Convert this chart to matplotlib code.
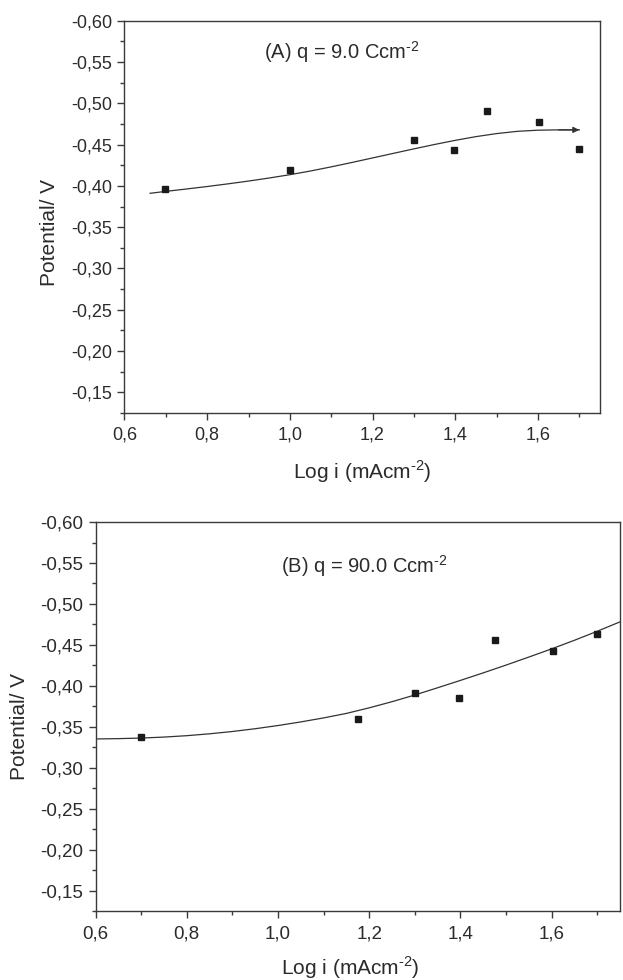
import matplotlib
matplotlib.use('Agg')
import matplotlib.pyplot as plt
from matplotlib.ticker import MultipleLocator, FuncFormatter

plt.rcParams['font.family'] = ['Liberation Sans', 'DejaVu Sans']
plt.rcParams['mathtext.fontset'] = 'custom'
plt.rcParams['mathtext.rm'] = 'Liberation Sans'

# 数据 (A) q = 9.0 Ccm-2
log_i_a = [0.699, 1.000, 1.301, 1.398, 1.477, 1.602, 1.699]
pot_a = [-0.396, -0.419, -0.4555, -0.4432, -0.4912, -0.4770, -0.4444]
fit_x_a = [0.662, 0.70, 0.75, 0.80, 0.85, 0.90, 0.95, 1.00, 1.05, 1.10, 1.15, 1.20,
           1.25, 1.30, 1.35, 1.40, 1.45, 1.50, 1.55, 1.60, 1.65, 1.70]
fit_y_a = [-0.3910, -0.3933, -0.3962, -0.3992, -0.4024, -0.4058, -0.4095, -0.4135,
           -0.4180, -0.4230, -0.4283, -0.4338, -0.4393, -0.4448, -0.4501, -0.4551,
           -0.4596, -0.4633, -0.4660, -0.4674, -0.4678, -0.4678]

# 数据 (B) q = 90.0 Ccm-2
log_i_b = [0.699, 1.176, 1.301, 1.398, 1.477, 1.602, 1.699]
pot_b = [-0.3376, -0.3600, -0.3917, -0.3855, -0.4560, -0.4422, -0.4633]
fit_x_b = [0.60, 0.65, 0.70, 0.75, 0.80, 0.85, 0.90, 0.95, 1.00, 1.05, 1.10, 1.15,
           1.20, 1.25, 1.30, 1.35, 1.40, 1.45, 1.50, 1.55, 1.60, 1.65, 1.70, 1.75]
fit_y_b = [-0.3351, -0.3355, -0.3362, -0.3374, -0.3391, -0.3414, -0.3442, -0.3476,
           -0.3515, -0.3559, -0.3608, -0.3663, -0.3731, -0.3806, -0.3888, -0.3976,
           -0.4066, -0.4158, -0.4253, -0.4351, -0.4451, -0.4556, -0.4666, -0.4781]

ink = '#2b2b2b'


def style_axes(ax, tick_size, pad_x, pad_y):
    ax.set_xlim(0.6, 1.75)
    ax.set_ylim(-0.125, -0.60)
    ax.xaxis.set_major_locator(MultipleLocator(0.2))
    ax.xaxis.set_minor_locator(MultipleLocator(0.1))
    ax.yaxis.set_major_locator(MultipleLocator(0.05))
    ax.yaxis.set_minor_locator(MultipleLocator(0.025))
    ax.xaxis.set_major_formatter(FuncFormatter(lambda v, p: f'{v:.1f}'.replace('.', ',')))
    ax.yaxis.set_major_formatter(FuncFormatter(lambda v, p: f'{v:.2f}'.replace('.', ',')))
    ax.tick_params(which='both', direction='out', top=False, right=False, color='#3a3a3a',
                   labelcolor=ink, width=1.0)
    ax.tick_params(which='major', length=5.2, labelsize=tick_size)
    ax.tick_params(which='minor', length=3)
    ax.tick_params(axis='x', which='major', pad=pad_x)
    ax.tick_params(axis='y', which='major', pad=pad_y)
    for sp in ax.spines.values():
        sp.set_color('#3a3a3a')
        sp.set_linewidth(1.0)


fig = plt.figure(figsize=(6.23, 9.8), dpi=100)

# 子图A
ax1 = fig.add_axes([0.1998, 0.5786, 0.7632, 0.4003])
ax1.plot(fit_x_a, fit_y_a, color='#333333', lw=0.9)
ax1.annotate('', xy=(fit_x_a[-1], fit_y_a[-1]), xytext=(fit_x_a[-2], fit_y_a[-2]),
             arrowprops=dict(arrowstyle='-|>', mutation_scale=9, lw=0.9, color='#333333',
                             shrinkA=0, shrinkB=0))
ax1.plot(log_i_a, pot_a, 's', color='#1a1a1a', ms=5)
ax1.text(0.937, -0.562, r'(A) q = 9.0 Ccm$^{\text{-2}}$', fontsize=14.5, color=ink,
         ha='left', va='center')
style_axes(ax1, 13, 4.5, 3.5)
ax1.set_xlabel(r'Log i (mAcm$^{\text{-2}}$)', fontsize=15, color=ink)
ax1.set_ylabel('Potential/ V', fontsize=15, color=ink)
ax1.xaxis.set_label_coords(0.5, -0.150)
ax1.xaxis.label.set_verticalalignment('center')
ax1.yaxis.set_label_coords(-0.1575, 0.459)
ax1.yaxis.label.set_verticalalignment('center')

# 子图B
ax2 = fig.add_axes([0.1533, 0.0704, 0.8419, 0.3969])
ax2.plot(fit_x_b, fit_y_b, color='#333333', lw=0.9)
ax2.plot(log_i_b, pot_b, 's', color='#1a1a1a', ms=5)
ax2.text(1.006, -0.546, r'(B) q = 90.0 Ccm$^{\text{-2}}$', fontsize=14.5, color=ink,
         ha='left', va='center')
style_axes(ax2, 13.5, 5, 3.5)
ax2.set_xlabel(r'Log i (mAcm$^{\text{-2}}$)', fontsize=15, color=ink)
ax2.set_ylabel('Potential/ V', fontsize=15, color=ink)
ax2.xaxis.set_label_coords(0.485, -0.1465)
ax2.xaxis.label.set_verticalalignment('center')
ax2.yaxis.set_label_coords(-0.144, 0.4756)
ax2.yaxis.label.set_verticalalignment('center')

fig.savefig('out.png', dpi=100)
